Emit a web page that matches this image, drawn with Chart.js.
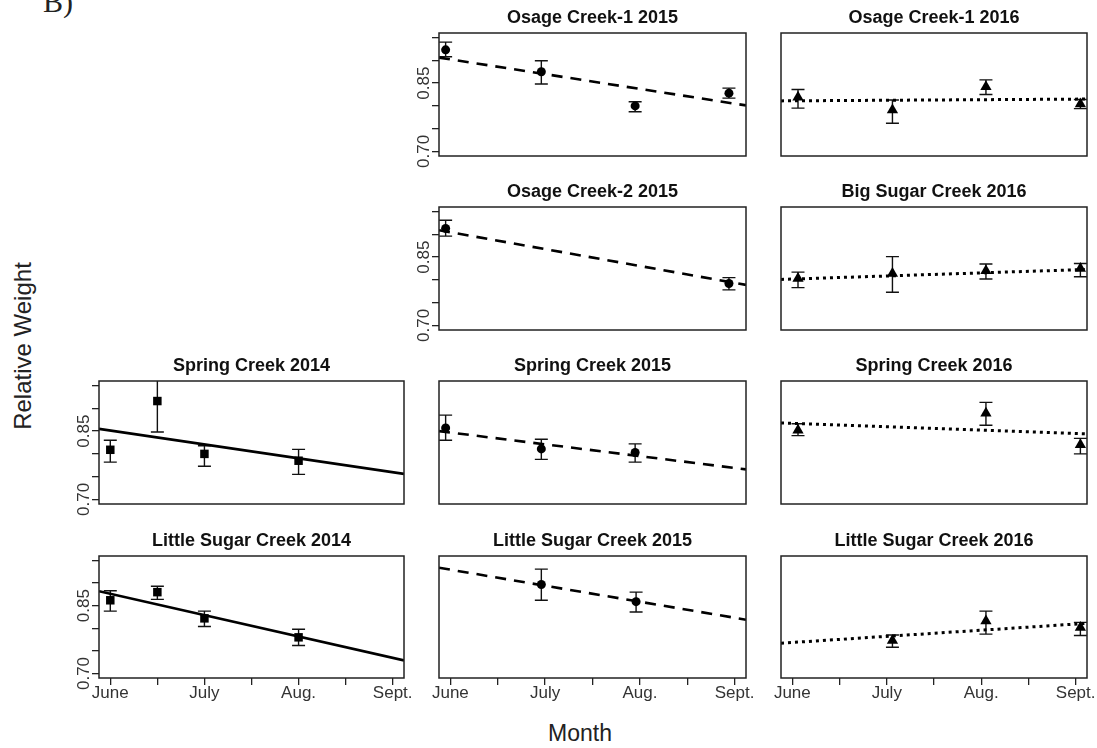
<!DOCTYPE html>
<html>
<head>
<meta charset="utf-8">
<script src="https://cdn.jsdelivr.net/npm/chart.js@4.4.0/dist/chart.umd.min.js"></script>
<style>
  body { margin: 0; background: #fff; width: 1097px; height: 748px; overflow: hidden; position: relative;
         font-family: "Liberation Sans", Arial, sans-serif; }
  canvas { position: absolute; }
  .lbl { position: absolute; color: #222; white-space: nowrap; }
</style>
</head>
<body>
<div class="lbl" style="left:43px;top:-13px;font-family:'Liberation Serif',serif;font-size:30px;line-height:30px;">B)</div>
<div class="lbl" style="left:23px;top:346px;font-size:24px;transform:translate(-50%,-50%) rotate(-90deg);">Relative Weight</div>
<div class="lbl" style="left:580px;top:733px;font-size:23px;transform:translate(-50%,-50%);">Month</div>
<script>
// axis ticks (month 0 = June)
const monthTicks = [0, 0.5, 1, 1.5, 2, 2.5, 3];
const monthLabels = ['June', '', 'July', '', 'Aug.', '', 'Sept.'];
const weightTicks = [0.70, 0.75, 0.80, 0.85, 0.90, 0.95];
const weightLabels = ['0.70', '', '', '0.85', '', ''];
const fitMonths = [-0.12, 3.12];

// Osage Creek-1 2015
const oc1_2015_month = [-0.05, 0.96, 1.95, 2.94];
const oc1_2015_wr = [0.923, 0.875, 0.800, 0.828];
const oc1_2015_lo = [0.908, 0.848, 0.787, 0.817];
const oc1_2015_hi = [0.940, 0.899, 0.809, 0.839];
const oc1_2015_fit = [0.906, 0.801];
// Osage Creek-1 2016
const oc1_2016_month = [0.06, 1.06, 2.05, 3.05];
const oc1_2016_wr = [0.819, 0.791, 0.842, 0.804];
const oc1_2016_lo = [0.795, 0.762, 0.825, 0.794];
const oc1_2016_hi = [0.836, 0.813, 0.857, 0.814];
const oc1_2016_fit = [0.811, 0.815];
// Osage Creek-2 2015
const oc2_2015_month = [-0.05, 2.94];
const oc2_2015_wr = [0.913, 0.792];
const oc2_2015_lo = [0.896, 0.778];
const oc2_2015_hi = [0.931, 0.805];
const oc2_2015_fit = [0.909, 0.789];
// Big Sugar Creek 2016
const bsc_2016_month = [0.06, 1.06, 2.05, 3.05];
const bsc_2016_wr = [0.803, 0.814, 0.820, 0.825];
const bsc_2016_lo = [0.783, 0.773, 0.802, 0.807];
const bsc_2016_hi = [0.817, 0.851, 0.835, 0.836];
const bsc_2016_fit = [0.801, 0.823];
// Spring Creek 2014
const sc_2014_month = [0, 0.5, 1, 2];
const sc_2014_wr = [0.809, 0.916, 0.800, 0.785];
const sc_2014_lo = [0.782, 0.848, 0.773, 0.755];
const sc_2014_hi = [0.830, 0.984, 0.818, 0.810];
const sc_2014_fit = [0.855, 0.756];
// Spring Creek 2015
const sc_2015_month = [-0.05, 0.96, 1.95];
const sc_2015_wr = [0.857, 0.811, 0.803];
const sc_2015_lo = [0.830, 0.788, 0.782];
const sc_2015_hi = [0.885, 0.832, 0.822];
const sc_2015_fit = [0.850, 0.766];
// Spring Creek 2016
const sc_2016_month = [0.06, 2.05, 3.05];
const sc_2016_wr = [0.852, 0.889, 0.820];
const sc_2016_lo = [0.840, 0.863, 0.800];
const sc_2016_hi = [0.866, 0.913, 0.834];
const sc_2016_fit = [0.868, 0.844];
// Little Sugar Creek 2014
const lsc_2014_month = [0, 0.5, 1, 2];
const lsc_2014_wr = [0.862, 0.880, 0.822, 0.780];
const lsc_2014_lo = [0.838, 0.864, 0.804, 0.762];
const lsc_2014_hi = [0.883, 0.893, 0.838, 0.798];
const lsc_2014_fit = [0.882, 0.729];
// Little Sugar Creek 2015
const lsc_2015_month = [0.96, 1.96];
const lsc_2015_wr = [0.897, 0.859];
const lsc_2015_lo = [0.862, 0.836];
const lsc_2015_hi = [0.931, 0.880];
const lsc_2015_fit = [0.934, 0.819];
// Little Sugar Creek 2016
const lsc_2016_month = [1.06, 2.05, 3.05];
const lsc_2016_wr = [0.773, 0.816, 0.802];
const lsc_2016_lo = [0.758, 0.787, 0.784];
const lsc_2016_hi = [0.785, 0.838, 0.813];
const lsc_2016_fit = [0.767, 0.811];

const panels = [
  {row: 0, col: 1, title: 'Osage Creek-1 2015', m: oc1_2015_month, wr: oc1_2015_wr, lo: oc1_2015_lo, hi: oc1_2015_hi, fit: oc1_2015_fit},
  {row: 0, col: 2, title: 'Osage Creek-1 2016', m: oc1_2016_month, wr: oc1_2016_wr, lo: oc1_2016_lo, hi: oc1_2016_hi, fit: oc1_2016_fit},
  {row: 1, col: 1, title: 'Osage Creek-2 2015', m: oc2_2015_month, wr: oc2_2015_wr, lo: oc2_2015_lo, hi: oc2_2015_hi, fit: oc2_2015_fit},
  {row: 1, col: 2, title: 'Big Sugar Creek 2016', m: bsc_2016_month, wr: bsc_2016_wr, lo: bsc_2016_lo, hi: bsc_2016_hi, fit: bsc_2016_fit},
  {row: 2, col: 0, title: 'Spring Creek 2014', m: sc_2014_month, wr: sc_2014_wr, lo: sc_2014_lo, hi: sc_2014_hi, fit: sc_2014_fit},
  {row: 2, col: 1, title: 'Spring Creek 2015', m: sc_2015_month, wr: sc_2015_wr, lo: sc_2015_lo, hi: sc_2015_hi, fit: sc_2015_fit},
  {row: 2, col: 2, title: 'Spring Creek 2016', m: sc_2016_month, wr: sc_2016_wr, lo: sc_2016_lo, hi: sc_2016_hi, fit: sc_2016_fit},
  {row: 3, col: 0, title: 'Little Sugar Creek 2014', m: lsc_2014_month, wr: lsc_2014_wr, lo: lsc_2014_lo, hi: lsc_2014_hi, fit: lsc_2014_fit},
  {row: 3, col: 1, title: 'Little Sugar Creek 2015', m: lsc_2015_month, wr: lsc_2015_wr, lo: lsc_2015_lo, hi: lsc_2015_hi, fit: lsc_2015_fit},
  {row: 3, col: 2, title: 'Little Sugar Creek 2016', m: lsc_2016_month, wr: lsc_2016_wr, lo: lsc_2016_lo, hi: lsc_2016_hi, fit: lsc_2016_fit}
];

// layout of the plot boxes on the page
const colLeft = [99, 439, 781], colWidth = [305, 307, 306];
const rowTop = [33, 207, 381, 556], rowHeight = [123, 123, 123, 122];
const AXIS_W = 45, TITLE_H = 28, AXIS_H = 40, PAD_R = 12;
const FONT = '"Liberation Sans", Arial, sans-serif';

// marker + trend line style per column (2014 solid/squares, 2015 dashed/circles, 2016 dotted/triangles)
const colStyle = [
  {marker: 'rect', radius: 6, dash: [], width: 2.6},
  {marker: 'circle', radius: 4.5, dash: [11, 8], width: 2.6},
  {marker: 'triangle', radius: 6.5, dash: [3, 4], width: 3}
];

function errorBars(p) {
  return {
    id: 'errorBars',
    beforeDatasetsDraw(chart) {
      const {ctx, chartArea: a, scales: {x, y}} = chart;
      ctx.save();
      ctx.beginPath();
      ctx.rect(a.left, a.top, a.width, a.height);
      ctx.clip();
      ctx.strokeStyle = '#111';
      ctx.lineWidth = 1.4;
      p.m.forEach((m, i) => {
        const px = x.getPixelForValue(m);
        const top = y.getPixelForValue(p.hi[i]);
        const bot = y.getPixelForValue(p.lo[i]);
        ctx.beginPath();
        ctx.moveTo(px, top); ctx.lineTo(px, bot);
        ctx.moveTo(px - 6.5, top); ctx.lineTo(px + 6.5, top);
        ctx.moveTo(px - 6.5, bot); ctx.lineTo(px + 6.5, bot);
        ctx.stroke();
      });
      ctx.restore();
    }
  };
}

const panelBox = {
  id: 'panelBox',
  afterDraw(chart) {
    const {ctx, chartArea: a} = chart;
    ctx.save();
    ctx.strokeStyle = '#222';
    ctx.lineWidth = 1.5;
    ctx.strokeRect(a.left, a.top, a.width, a.height);
    ctx.restore();
  }
};

panels.forEach(p => {
  const st = colStyle[p.col];
  const showX = p.row === 3;
  const showY = p.col === 0 || (p.col === 1 && p.row < 2);
  const cv = document.createElement('canvas');
  cv.width = colWidth[p.col] + AXIS_W + PAD_R;
  cv.height = rowHeight[p.row] + TITLE_H + AXIS_H;
  cv.style.left = (colLeft[p.col] - AXIS_W) + 'px';
  cv.style.top = (rowTop[p.row] - TITLE_H) + 'px';
  document.body.appendChild(cv);

  new Chart(cv, {
    type: 'line',
    data: {
      datasets: [
        {
          data: p.m.map((m, i) => ({x: m, y: p.wr[i]})),
          showLine: false,
          pointStyle: st.marker,
          pointRadius: st.radius,
          pointBackgroundColor: '#000',
          pointBorderWidth: 0
        },
        {
          data: fitMonths.map((m, i) => ({x: m, y: p.fit[i]})),
          borderColor: '#000',
          borderWidth: st.width,
          borderDash: st.dash,
          pointRadius: 0
        }
      ]
    },
    options: {
      responsive: false,
      animation: false,
      events: [],
      layout: {padding: {left: 0, top: 0, right: PAD_R, bottom: 0}},
      plugins: {
        legend: {display: false},
        tooltip: {enabled: false},
        title: {
          display: true, fullSize: false, text: p.title, color: '#111',
          font: {family: FONT, size: 18, weight: 'bold', lineHeight: 1},
          padding: {top: 4, bottom: 6}
        }
      },
      scales: {
        x: {
          type: 'linear', min: fitMonths[0], max: fitMonths[1],
          afterBuildTicks: s => { s.ticks = monthTicks.map(v => ({value: v})); },
          afterFit: s => { s.height = AXIS_H; s.paddingLeft = 0; s.paddingRight = 0; },
          grid: {display: showX, drawOnChartArea: false, tickLength: 7, tickColor: '#222', lineWidth: 1.3},
          border: {display: false},
          ticks: {
            display: showX, autoSkip: false, maxRotation: 0, padding: 0, color: '#333',
            font: {family: FONT, size: 17, lineHeight: 1},
            callback: (v, i) => monthLabels[i]
          }
        },
        y: {
          type: 'linear', min: 0.69, max: 0.96,
          afterBuildTicks: s => { s.ticks = weightTicks.map(v => ({value: v})); },
          afterFit: s => { s.width = AXIS_W; s.paddingTop = 0; s.paddingBottom = 0; },
          grid: {display: showY, drawOnChartArea: false, tickLength: 7, tickColor: '#222', lineWidth: 1.3},
          border: {display: false},
          ticks: {
            display: showY, autoSkip: false, minRotation: 90, maxRotation: 90,
            crossAlign: 'center', padding: -8.5, color: '#333',
            font: {family: FONT, size: 17, lineHeight: 1},
            callback: (v, i) => weightLabels[i]
          }
        }
      }
    },
    plugins: [errorBars(p), panelBox]
  });
});
</script>
</body>
</html>
